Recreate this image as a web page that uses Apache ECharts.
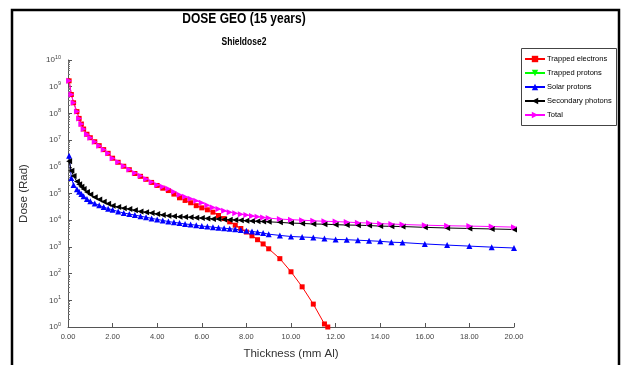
<!DOCTYPE html>
<html>
<head>
<meta charset="utf-8">
<script src="https://cdn.jsdelivr.net/npm/echarts@6.0.0/dist/echarts.min.js"></script>
<style>
  html, body { margin: 0; padding: 0; background: #fff; }
  #chart { width: 626px; height: 365px; }
</style>
</head>
<body>
<div id="chart"></div>
<script>
// thickness grid (mm Al)
const thickness = [0.05, 0.15, 0.25, 0.4, 0.5, 0.6, 0.7, 0.85, 1.0, 1.2, 1.4, 1.6, 1.8, 2.0,
  2.25, 2.5, 2.75, 3.0, 3.25, 3.5, 3.75, 4.0, 4.25, 4.5, 4.75, 5.0, 5.25, 5.5, 5.75, 6.0,
  6.25, 6.5, 6.75, 7.0, 7.25, 7.5, 7.75, 8.0, 8.25, 8.5, 8.75, 9.0,
  9.5, 10, 10.5, 11, 11.5, 12, 12.5, 13, 13.5, 14, 14.5, 15, 16, 17, 18, 19, 20];
const electronThickness = [0.05, 0.15, 0.25, 0.4, 0.5, 0.6, 0.7, 0.85, 1.0, 1.2, 1.4, 1.6, 1.8, 2.0,
  2.25, 2.5, 2.75, 3.0, 3.25, 3.5, 3.75, 4.0, 4.25, 4.5, 4.75, 5.0, 5.25, 5.5, 5.75, 6.0,
  6.25, 6.5, 6.75, 7.0, 7.25, 7.5, 7.75, 8.0, 8.25, 8.5, 8.75, 9.0,
  9.5, 10, 10.5, 11, 11.5, 11.65];

// dose (Rad)
const trappedElectrons = [1.66e9, 5.1e8, 2.5e8, 1.17e8, 6.5e7, 4.0e7, 2.6e7, 1.66e7, 1.23e7, 8.7e6, 6.2e6, 4.4e6, 3.2e6, 2.1e6,
  1.48e6, 1.05e6, 7.8e5, 5.6e5, 4.4e5, 3.4e5, 2.6e5, 2.0e5, 1.58e5, 1.29e5, 9.5e4, 6.9e4, 5.5e4, 4.5e4, 3.5e4, 2.9e4,
  2.45e4, 2.0e4, 1.5e4, 1.15e4, 8.7e3, 6.5e3, 4.9e3, 3.6e3, 2.6e3, 1.86e3, 1.29e3, 850,
  363, 117, 32, 7.2, 1.3, 1.0];
const trappedProtons = [];
const solarProtons = [2.6e6, 3.8e5, 2.1e5, 1.45e5, 1.17e5, 9.5e4, 7.9e4, 6.2e4, 5.1e4, 4.2e4, 3.6e4, 3.1e4, 2.7e4, 2.45e4,
  2.1e4, 1.86e4, 1.7e4, 1.55e4, 1.41e4, 1.29e4, 1.17e4, 1.07e4, 9.8e3, 8.9e3, 8.3e3, 7.8e3, 7.2e3, 6.9e3, 6.5e3, 6.0e3,
  5.8e3, 5.5e3, 5.2e3, 5.0e3, 4.8e3, 4.6e3, 4.3e3, 4.0e3, 3.8e3, 3.55e3, 3.3e3, 3.0e3,
  2.7e3, 2.45e3, 2.35e3, 2.25e3, 2.05e3, 1.9e3, 1.86e3, 1.78e3, 1.7e3, 1.62e3, 1.5e3, 1.45e3,
  1.29e3, 1.17e3, 1.07e3, 980, 910];
const secondaryPhotons = [1.6e6, 7.1e5, 4.5e5, 2.8e5, 2.2e5, 1.78e5, 1.48e5, 1.15e5, 9.1e4, 7.2e4, 6.0e4, 4.9e4, 4.1e4, 3.5e4,
  3.1e4, 2.8e4, 2.6e4, 2.35e4, 2.1e4, 2.0e4, 1.86e4, 1.7e4, 1.58e4, 1.48e4, 1.41e4, 1.35e4, 1.32e4, 1.29e4, 1.23e4, 1.2e4,
  1.17e4, 1.12e4, 1.1e4, 1.07e4, 1.05e4, 1.02e4, 1.0e4, 9.5e3, 9.3e3, 9.1e3, 8.9e3, 8.7e3,
  8.3e3, 7.8e3, 7.6e3, 7.2e3, 7.1e3, 6.8e3, 6.6e3, 6.5e3, 6.3e3, 6.0e3, 5.9e3, 5.8e3,
  5.4e3, 5.1e3, 4.9e3, 4.7e3, 4.5e3];
const total = [1.66e9, 5.1e8, 2.5e8, 1.17e8, 6.5e7, 4.0e7, 2.6e7, 1.66e7, 1.23e7, 8.7e6, 6.2e6, 4.4e6, 3.2e6, 2.1e6,
  1.5e6, 1.07e6, 8.0e5, 5.8e5, 4.6e5, 3.5e5, 2.7e5, 2.1e5, 1.8e5, 1.5e5, 1.17e5, 9.0e4, 7.5e4, 6.4e4, 5.4e4, 4.5e4,
  3.6e4, 3.0e4, 2.6e4, 2.24e4, 2.0e4, 1.82e4, 1.66e4, 1.55e4, 1.45e4, 1.35e4, 1.26e4, 1.2e4,
  1.1e4, 1.05e4, 1.0e4, 9.5e3, 9.1e3, 8.9e3, 8.5e3, 8.1e3, 7.8e3, 7.4e3, 7.2e3, 6.9e3,
  6.5e3, 6.2e3, 6.0e3, 5.8e3, 5.5e3];

const seriesNames = ['Trapped electrons', 'Trapped protons', 'Solar protons', 'Secondary photons', 'Total'];
const xTicks = [0, 2, 4, 6, 8, 10, 12, 14, 16, 18, 20];

const FONT = '"Liberation Sans", Arial, sans-serif';

const pairs = (xs, ys) => ys.map((y, i) => [xs[i], y]);

const chart = echarts.init(document.getElementById('chart'));

const mkSeries = (name, xs, ys, color, symbol, rotate) => ({
  name: name,
  type: 'line',
  data: pairs(xs, ys),
  symbol: symbol,
  symbolSize: symbol === 'rect' ? 5 : 6,
  symbolRotate: rotate,
  showSymbol: true,
  lineStyle: { color: color, width: 1 },
  itemStyle: { color: color },
  emphasis: { disabled: true },
  animation: false
});

chart.setOption({
  animation: false,
  textStyle: { fontFamily: FONT },
  grid: { left: 68, right: 112, top: 60, bottom: 34 },
  legend: {
    orient: 'vertical',
    left: 524,
    top: 55,
    itemWidth: 20,
    itemHeight: 8,
    itemGap: 6,
    padding: 0,
    textStyle: { fontSize: 7.5, color: '#000', fontFamily: FONT, padding: [0, 0, 0, -3] },
    data: seriesNames
  },
  xAxis: {
    type: 'value',
    min: 0,
    max: 20,
    interval: 2,
    name: 'Thickness (mm Al)',
    nameLocation: 'middle',
    nameGap: 21,
    nameTextStyle: { fontSize: 11.5, color: '#333', fontFamily: FONT },
    axisLine: { lineStyle: { color: '#555', width: 1 } },
    axisTick: { inside: true, length: 4, lineStyle: { color: '#555' } },
    axisLabel: {
      fontSize: 7.5, color: '#444', margin: 6,
      formatter: v => xTicks.includes(v) ? v.toFixed(2) : ''
    },
    splitLine: { show: false }
  },
  yAxis: {
    type: 'log',
    logBase: 10,
    min: 1,
    max: 1e10,
    interval: 1,
    name: 'Dose (Rad)',
    nameLocation: 'middle',
    nameGap: 38,
    nameTextStyle: { fontSize: 11.5, color: '#333', fontFamily: FONT },
    axisLine: { show: true, lineStyle: { color: '#555', width: 1 } },
    axisTick: { show: true, inside: true, length: 4, lineStyle: { color: '#555' } },
    minorTick: { show: true, splitNumber: 9, length: 2, lineStyle: { color: '#777' } },
    axisLabel: {
      color: '#444', fontSize: 8, margin: 7,
      formatter: v => '10{s|' + Math.round(Math.log10(v)) + '}',
      rich: { s: { fontSize: 5.5, color: '#444', verticalAlign: 'top', padding: [0, 0, 6, 0] } }
    },
    splitLine: { show: false }
  },
  graphic: [
    { type: 'rect', shape: { x: 12, y: 10, width: 607, height: 400 }, style: { fill: 'none', stroke: '#000', lineWidth: 2.5 }, silent: true },
    { type: 'rect', shape: { x: 521.5, y: 48.5, width: 95, height: 77 }, style: { fill: 'none', stroke: '#444', lineWidth: 1 }, silent: true },
    { type: 'text', x: 244, y: 19, scaleX: 0.8, style: { text: 'DOSE GEO (15 years)', font: 'bold 15px ' + FONT, fill: '#000', textAlign: 'center', textVerticalAlign: 'middle' } },
    { type: 'text', x: 244, y: 42, scaleX: 0.85, style: { text: 'Shieldose2', font: 'bold 10px ' + FONT, fill: '#000', textAlign: 'center', textVerticalAlign: 'middle' } }
  ],
  series: [
    mkSeries(seriesNames[0], electronThickness, trappedElectrons, '#ff0000', 'rect', 0),
    mkSeries(seriesNames[1], thickness, trappedProtons, '#00ff00', 'triangle', 180),
    mkSeries(seriesNames[2], thickness, solarProtons, '#0000ff', 'triangle', 0),
    mkSeries(seriesNames[3], thickness, secondaryPhotons, '#000000', 'triangle', 90),
    mkSeries(seriesNames[4], thickness, total, '#ff00ff', 'triangle', -90)
  ]
});

window.addEventListener('resize', function () {
  chart.resize();
});
</script>
</body>
</html>
